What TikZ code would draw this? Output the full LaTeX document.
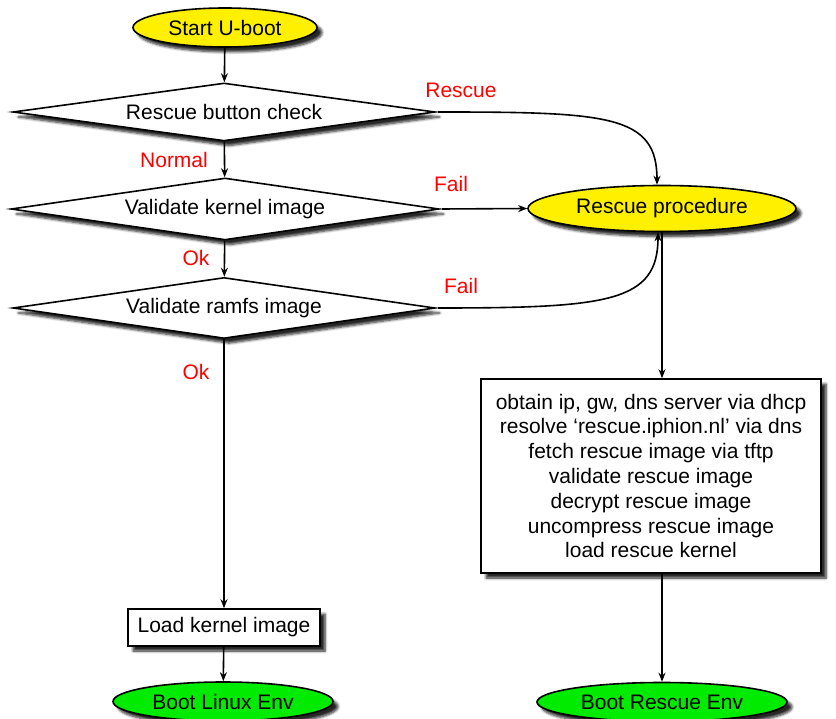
\documentclass[tikz,border=0pt]{standalone}
\usepackage{fontspec}
\setmainfont{Liberation Sans}
\usetikzlibrary{shapes.geometric,shadows.blur,arrows.meta}
\definecolor{termyellow}{RGB}{255,240,0}
\definecolor{termgreen}{RGB}{0,235,0}
\begin{document}
\begin{tikzpicture}[x=1pt,y=-1pt,
  font=\fontsize{21}{24.8}\selectfont,
  shadowed/.style={blur shadow={shadow xshift=5pt,shadow yshift=-5pt,
      shadow blur radius=2.5pt,shadow blur steps=6,shadow opacity=85}},
  terminal/.style={ellipse,draw=black,line width=1.6pt,inner sep=0pt,
      minimum height=39pt,shadowed},
  decision/.style={diamond,draw=black,fill=white,line width=1.6pt,inner sep=0pt,
      aspect=7,minimum width=424pt,minimum height=60pt,shadowed},
  process/.style={rectangle,draw=black,fill=white,line width=1.6pt,inner sep=0pt,
      shadowed},
  lbl/.style={text=red,inner sep=0pt},
  flow/.style={-{Stealth[length=9pt,width=7pt]},line width=1.6pt}]

\useasboundingbox (0,0) rectangle (836,719);

% boot path on the left
\node[terminal,fill=termyellow,minimum width=184pt] (start) at (225,27.5) {Start U-boot};
\node[decision,minimum width=422pt,minimum height=58pt] (btn) at (224,112) {Rescue button check};
\node[decision,minimum width=428pt,minimum height=62pt] (kern) at (225,209) {Validate kernel image};
\node[decision,minimum width=422pt,minimum height=61pt] (ramfs) at (224,308) {Validate ramfs image};
\node[process,minimum width=192pt,minimum height=37pt] (load) at (224,627.5) {Load kernel image};
\node[terminal,fill=termgreen,minimum width=220pt] (linux) at (223,701.5) {Boot Linux Env};

% rescue path on the right
\node[terminal,fill=termyellow,minimum width=268pt,minimum height=46pt] (resc) at (662,208.5) {Rescue procedure};
\node[process,minimum width=340pt,minimum height=194pt,align=center] (steps) at (651,476)
  {obtain ip, gw, dns server via dhcp\\
   resolve ‘rescue.iphion.nl’ via dns\\
   fetch rescue image via tftp\\
   validate rescue image\\
   decrypt rescue image\\
   uncompress rescue image\\
   load rescue kernel};
\node[terminal,fill=termgreen,minimum width=250pt] (bresc) at (662,702) {Boot Rescue Env};

% branch labels
\node[lbl] (lrescue) at (461,90) {Rescue};
\node[lbl] (lnormal) at (174,160) {Normal};
\node[lbl] (lfail1) at (451,184) {Fail};
\node[lbl] (lok1) at (196,258) {Ok};
\node[lbl] (lfail2) at (461,286) {Fail};
\node[lbl] (lok2) at (196,372) {Ok};

% main flow
\draw[flow] (start) -- (btn);
\draw[flow] (btn) -- (kern);
\draw[flow] (kern) -- (ramfs);
\draw[flow] (ramfs) -- (load);
\draw[flow] (load) -- (linux);

% rescue branches
\draw[flow] ([xshift=2pt]btn.east) .. controls +(170,0) and +(0,-70) .. ([xshift=-5pt]resc.north);
\draw[flow] ([xshift=2pt]kern.east) -- (resc.west);
\draw[flow] ([xshift=2pt]ramfs.east) .. controls +(170,0) and +(0,70) .. ([xshift=-4pt]resc.south);
\draw[flow] (resc.south) -- (resc.south |- steps.north);
\draw[flow] (bresc.north |- steps.south) -- (bresc.north);
\end{tikzpicture}
\end{document}
